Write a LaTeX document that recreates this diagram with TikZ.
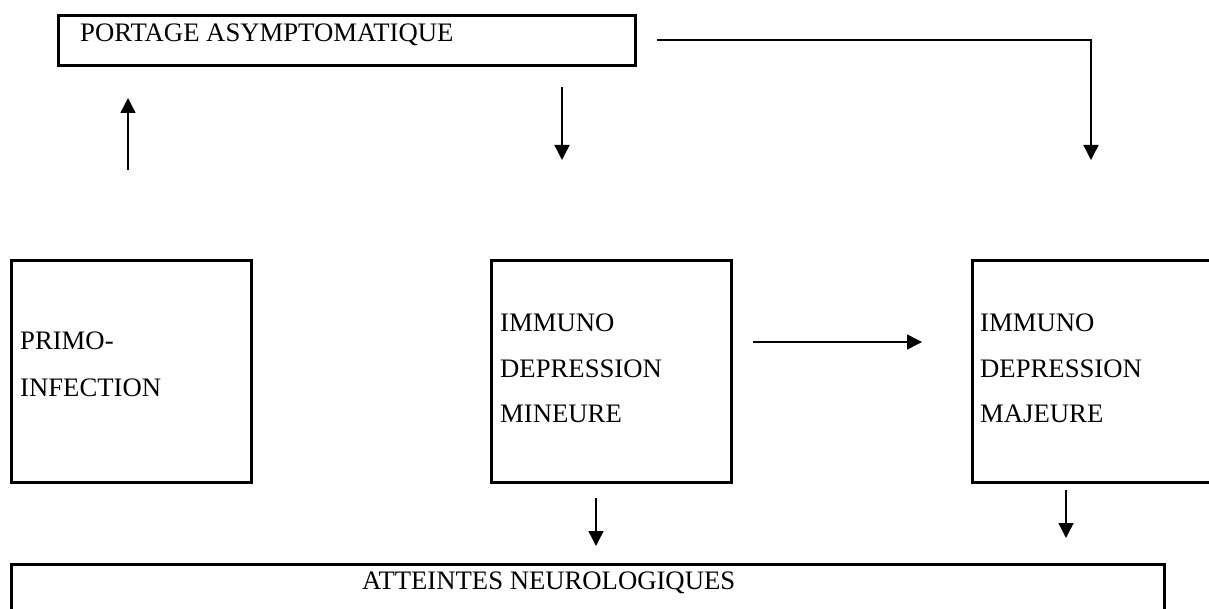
\documentclass[tikz,border=0pt]{standalone}
\usepackage{fontspec}
\setmainfont{Liberation Serif}
\usetikzlibrary{arrows.meta}

\begin{document}
\begin{tikzpicture}[x=1pt, y=-1pt,
    box/.style={draw, rectangle, line width=2.6pt, inner sep=0pt, anchor=north west},
    boxtext/.style={inner sep=0pt, anchor=base west, font=\fontsize{26.7}{30}\selectfont},
    flow/.style={line width=1.4pt, -{Triangle[length=15pt, width=15pt]}}]

	% Page
	\useasboundingbox (0,0) rectangle (1209,609);
	\clip (0,0) rectangle (1209,609);

	% Rows
	\def\rowtop{259}
	\def\rowh{222}

	% Boxes
	\node[box, minimum width=577pt, minimum height=50pt] (portage) at (57,14) {};
	\node[box, minimum width=240pt, minimum height=\rowh pt] (primo) at (10,\rowtop) {};
	\node[box, minimum width=240pt, minimum height=\rowh pt] (mineure) at (490,\rowtop) {};
	\node[box, minimum width=250pt, minimum height=\rowh pt] (majeure) at (971,\rowtop) {};
	\node[box, minimum width=1153pt, minimum height=80pt] (neuro) at (10,563) {};

	% Texts
	\node[boxtext] (t-portage) at (80,42) {PORTAGE ASYMPTOMATIQUE};
	\node[boxtext] (t-primo1) at (20,349) {PRIMO-};
	\node[boxtext] (t-primo2) at (20,396) {INFECTION};
	\node[boxtext] (t-min1) at (500,331) {IMMUNO};
	\node[boxtext] (t-min2) at (500,377) {DEPRESSION};
	\node[boxtext] (t-min3) at (500,422) {MINEURE};
	\node[boxtext] (t-maj1) at (980,331) {IMMUNO};
	\node[boxtext] (t-maj2) at (980,377) {DEPRESSION};
	\node[boxtext] (t-maj3) at (980,422) {MAJEURE};
	\node[boxtext] (t-neuro) at (362,589) {ATTEINTES NEUROLOGIQUES};

	% Arrow ends
	\coordinate (up-s) at (128,170);
	\coordinate (up-e) at (128,98);
	\coordinate (dn-s) at (562,87);
	\coordinate (dn-e) at (562,160);
	\coordinate (top-s) at (657,40);
	\coordinate (top-e) at (1091,160);
	\coordinate (mid-s) at (753,342);
	\coordinate (mid-e) at (922,342);
	\coordinate (min-s) at (596,498);
	\coordinate (min-e) at (596,546);
	\coordinate (maj-s) at (1066,490);
	\coordinate (maj-e) at (1066,538);

	% Arrows
	\draw[flow] (up-s) -- (up-e);
	\draw[flow] (dn-s) -- (dn-e);
	\draw[flow] (top-s) -| (top-e);
	\draw[flow] (mid-s) -- (mid-e);
	\draw[flow] (min-s) -- (min-e);
	\draw[flow] (maj-s) -- (maj-e);

\end{tikzpicture}
\end{document}
